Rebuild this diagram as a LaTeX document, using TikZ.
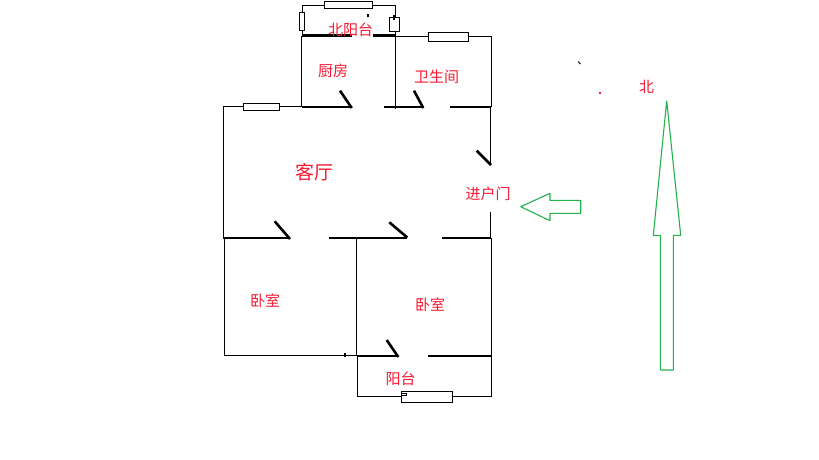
\documentclass[tikz,border=0pt]{standalone}
\usepackage{fontspec}
\newfontfamily\cjk{Noto Sans CJK SC}
\definecolor{labelred}{RGB}{245,25,50}
\definecolor{arrowgreen}{RGB}{34,177,76}
\tikzset{
  wall/.style={draw=black,line width=1.1pt},
  thickwall/.style={draw=black,line width=2.6pt},
  leaf/.style={draw=black,line width=2.6pt},
  win/.style={draw=black,fill=white,line width=1.1pt},
  outline/.style={draw=arrowgreen,line width=1.1pt,fill=white,line join=bevel},
  lab/.style={text=labelred,inner sep=0pt,font=\cjk\fontsize{15}{15}\selectfont},
  biglab/.style={text=labelred,inner sep=0pt,font=\cjk\fontsize{19}{19}\selectfont}
}
\begin{document}
\begin{tikzpicture}[x=1pt,y=-1pt]
\useasboundingbox (0,0) rectangle (819,460);
\fill[white] (0,0) rectangle (819,460);
% north balcony
\draw[wall] (302.3,36) -- (302.3,5.3) -- (395.3,5.3) -- (395.3,36);
\draw[thickwall] (302,35.7) -- (351.7,35.7);
\draw[thickwall] (373,35.7) -- (395.3,35.7);
% kitchen and bath
\draw[wall] (301.7,36) -- (301.7,107);
\draw[wall] (395.3,20) -- (395.3,108.5);
\draw[wall] (395.3,36.3) -- (491.3,36.3) -- (491.3,107);
% living
\draw[wall] (301.7,106.5) -- (223.3,106.5) -- (223.3,238);
\draw[wall] (490.3,107) -- (490.3,165);
\draw[wall] (490.3,212.3) -- (490.3,238);
% bedrooms
\draw[wall] (224.3,238) -- (224.3,355.3) -- (357,355.3);
\draw[wall] (356.3,238) -- (356.3,355.3);
\draw[wall] (491.3,238) -- (491.3,356);
\draw[wall] (345,353) -- (345,357);
% south balcony
\draw[wall] (357.5,356) -- (357.5,396.3) -- (491.3,396.3) -- (491.3,356);
% thick walls and door leaves
\draw[thickwall] (301.7,107) -- (351.7,107);
\draw[thickwall] (384.3,107) -- (423.3,107);
\draw[thickwall] (450,107) -- (491.3,107);
\draw[thickwall] (223.3,238) -- (290,238);
\draw[thickwall] (329,238) -- (407.3,238);
\draw[thickwall] (442.3,238) -- (491,238);
\draw[thickwall] (357.3,356) -- (398.3,356);
\draw[thickwall] (428,356) -- (491.3,356);
\draw[leaf] (351.7,108) -- (340,90.7);
\draw[leaf] (423.3,108) -- (414,90.7);
\draw[leaf] (491,165) -- (476.7,150.7);
\draw[leaf] (290,239) -- (274.7,221.3);
\draw[leaf] (407.3,237.5) -- (389.3,222.3);
\draw[leaf] (398.3,357) -- (386.7,340);
% windows
\draw[win] (324.3,1.3) rectangle (372.3,8.3);
\draw[win] (299.3,12.3) rectangle (304.7,30.3);
\draw[win] (389.3,17.3) rectangle (399.3,31.3);
\draw[win] (428.3,32.3) rectangle (468.3,41.3);
\draw[win] (243.3,103.3) rectangle (279.3,110.3);
\draw[win] (401.3,391.3) rectangle (452.7,402.3);
\draw[win] (401.3,393.3) rectangle (406.7,395.7);
% specks
\fill[black] (393,15) rectangle (395,20.5);
\fill[black] (367,14) rectangle (369,17);
\draw[black,line width=0.8pt] (578,61.5) -- (580.5,64);
\fill[labelred] (599,92) rectangle (601,94);
% green arrows
\draw[outline] (520.7,206.7) -- (550,193.3) -- (550,200.3) -- (580.7,200.3) -- (580.7,213.3) -- (550,213.3) -- (550,220.7) -- cycle;
\draw[outline] (666.7,101) -- (680.7,235.3) -- (673.3,235.3) -- (673.3,370) -- (660.3,370) -- (660.3,235.3) -- (653.3,235.3) -- cycle;
% labels
\node[lab] (nbalcony) at (350.5,30) {\cjk 北阳台};
\node[lab] (kitchen) at (333,71) {\cjk 厨房};
\node[lab] (bath) at (436.5,77) {\cjk 卫生间};
\node[biglab] (livingroom) at (314,172) {\cjk 客厅};
\node[lab] (entry) at (488,194) {\cjk 进户门};
\node[lab] (bedA) at (265,301) {\cjk 卧室};
\node[lab] (bedB) at (430,305) {\cjk 卧室};
\node[lab] (sbalcony) at (400.5,378.5) {\cjk 阳台};
\node[lab] (north) at (646.5,87) {\cjk 北};
\end{tikzpicture}
\end{document}
